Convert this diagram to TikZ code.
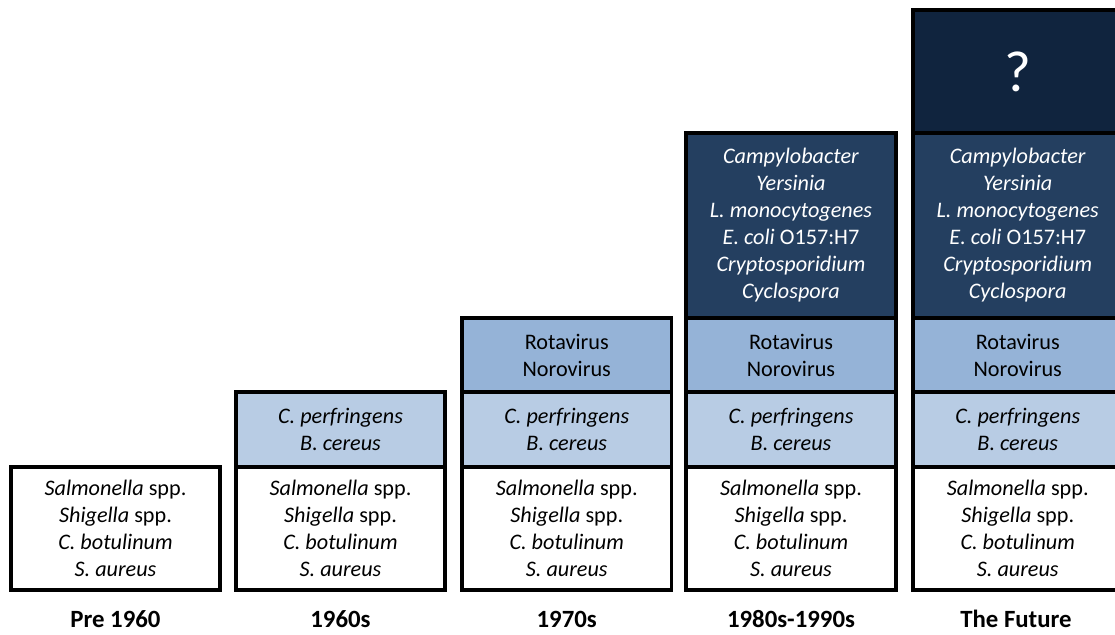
\documentclass[tikz,border=0pt]{standalone}
\usepackage{fontspec}
\setmainfont{Carlito}
\begin{document}
\begin{tikzpicture}[x=1pt,y=-1pt,
  layer/.style={draw=black, line width=3.6pt, minimum width=209.5pt, inner sep=0pt,
    align=center, font=\fontsize{22.2}{27}\selectfont, text=black},
  wlayer/.style={layer, fill=white, minimum height=123pt},
  llayer/.style={layer, fill=lightb, minimum height=75pt},
  mlayer/.style={layer, fill=medb, minimum height=74pt},
  dlayer/.style={layer, fill=darkb, minimum height=185pt, text=white},
  qlayer/.style={layer, fill=darkestb, minimum height=123pt, text=white, font=\fontsize{58}{60}\selectfont},
  era/.style={font=\fontsize{24.8}{28}\selectfont\bfseries, text=black}
]
\definecolor{lightb}{HTML}{B8CCE4}
\definecolor{medb}{HTML}{95B3D7}
\definecolor{darkb}{HTML}{243F60}
\definecolor{darkestb}{HTML}{10243E}
\useasboundingbox (0,0) rectangle (1115,634);
\fill[white] (0,0) rectangle (1115,634);
\begin{scope}
\clip (0,0) rectangle (1115,634);
\def\basic{\textit{Salmonella} spp.\\ \textit{Shigella} spp.\\ \textit{C. botulinum}\\ \textit{S. aureus}}
\def\cper{\textit{C. perfringens}\\ \textit{B. cereus}}
\def\vir{Rotavirus\\ Norovirus}
\def\emer{\textit{Campylobacter}\\ \textit{Yersinia}\\ \textit{L. monocytogenes}\\ \textit{E. coli} O157:H7\\ \textit{Cryptosporidium}\\ \textit{Cyclospora}}
% column 1
\node[wlayer] (a1) at (115.5,528.5) {\basic};
% column 2
\node[llayer] (b2) at (340.5,429.5) {\cper};
\node[wlayer] (b1) at (340.5,528.5) {\basic};
% column 3
\node[mlayer] (c3) at (566.75,355) {\vir};
\node[llayer] (c2) at (566.75,429.5) {\cper};
\node[wlayer] (c1) at (566.75,528.5) {\basic};
% column 4
\node[dlayer] (d4) at (791,225.5) {\emer};
\node[mlayer] (d3) at (791,355) {\vir};
\node[llayer] (d2) at (791,429.5) {\cper};
\node[wlayer] (d1) at (791,528.5) {\basic};
% column 5
\node[qlayer] (e5) at (1017.75,71.5) {?};
\node[dlayer] (e4) at (1017.75,225.5) {\emer};
\node[mlayer] (e3) at (1017.75,355) {\vir};
\node[llayer] (e2) at (1017.75,429.5) {\cper};
\node[wlayer] (e1) at (1017.75,528.5) {\basic};
\end{scope}
% labels
\node[era] (la) at (115.5,619) {Pre 1960};
\node[era] (lb) at (340.5,619) {1960s};
\node[era] (lc) at (566.75,619) {1970s};
\node[era] (ld) at (791,619) {1980s-1990s};
\node[era] (le) at (1016,619) {The Future};
\end{tikzpicture}
\end{document}
